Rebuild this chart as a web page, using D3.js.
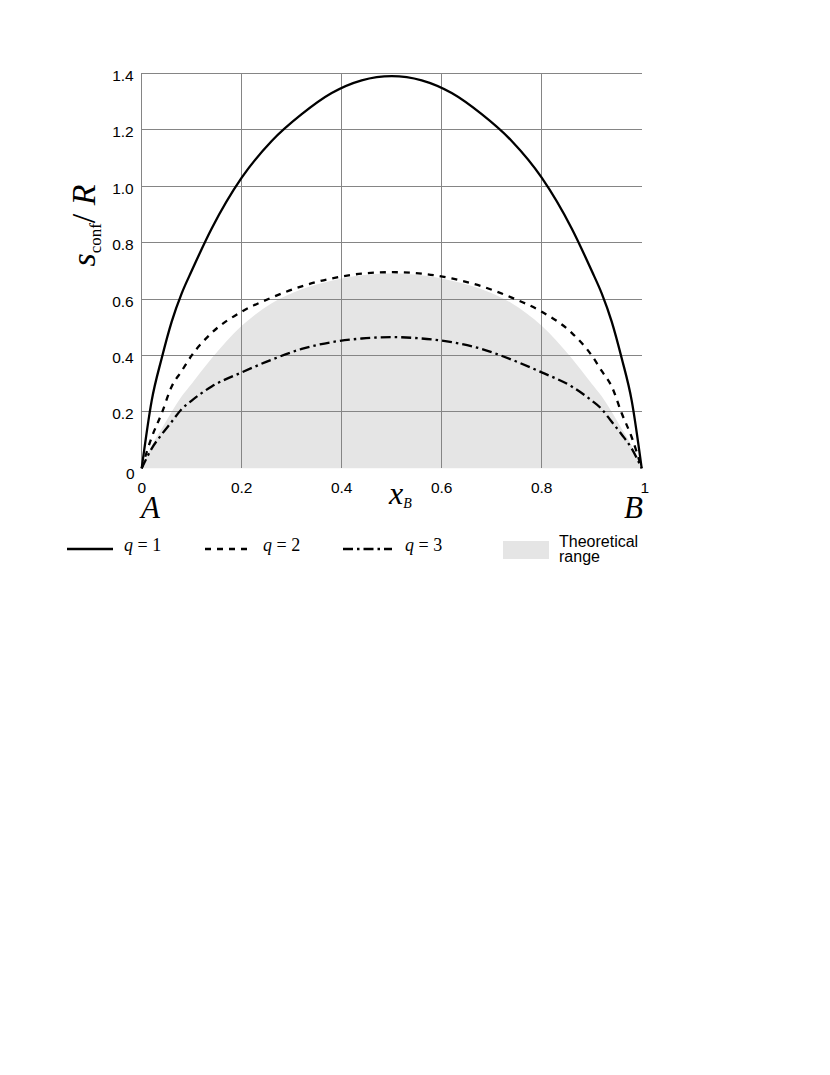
<!DOCTYPE html>
<html>
<head>
<meta charset="utf-8">
<script src="https://cdn.jsdelivr.net/npm/d3@7"></script>
<style>
  html, body { margin: 0; padding: 0; background: #ffffff; }
  svg { display: block; }
</style>
</head>
<body>
<div id="chart"></div>
<script>
// mole fraction of B along the A-B line
const xB = [0, 0.02, 0.04, 0.06, 0.08, 0.10, 0.14, 0.20, 0.26, 0.32, 0.38, 0.44, 0.50,
  0.56, 0.62, 0.68, 0.74, 0.80, 0.86, 0.90, 0.92, 0.94, 0.96, 0.98, 1];

const q1Values = [0, 0.24, 0.39, 0.52, 0.62, 0.70, 0.85, 1.03, 1.16, 1.255, 1.33, 1.375, 1.39,
  1.375, 1.33, 1.255, 1.16, 1.03, 0.85, 0.70, 0.62, 0.52, 0.39, 0.24, 0];
const q2Values = [0, 0.11, 0.195, 0.29, 0.345, 0.40, 0.48, 0.555, 0.605, 0.645, 0.673, 0.69, 0.695,
  0.69, 0.673, 0.645, 0.605, 0.555, 0.48, 0.40, 0.345, 0.29, 0.195, 0.11, 0];
const q3Values = [0, 0.07, 0.12, 0.165, 0.21, 0.24, 0.29, 0.34, 0.385, 0.423, 0.447, 0.46, 0.465,
  0.46, 0.447, 0.423, 0.385, 0.34, 0.29, 0.24, 0.21, 0.165, 0.12, 0.07, 0];
const rangeUpper = [0, 0.08, 0.14, 0.20, 0.255, 0.30, 0.39, 0.505, 0.585, 0.635, 0.665, 0.684, 0.69,
  0.684, 0.665, 0.635, 0.585, 0.505, 0.39, 0.30, 0.255, 0.20, 0.14, 0.08, 0];

const xTicks = [0, 0.2, 0.4, 0.6, 0.8, 1];
const xTickLabels = ["0", "0.2", "0.4", "0.6", "0.8", "1"];
const yTicks = [0, 0.2, 0.4, 0.6, 0.8, 1.0, 1.2, 1.4];
const yTickLabels = ["0", "0.2", "0.4", "0.6", "0.8", "1.0", "1.2", "1.4"];

const seriesNames = ["1", "2", "3"];

const WIDTH = 830;
const HEIGHT = 1075;
const PLOT = { left: 141.7, right: 641.7, top: 73.3, bottom: 468.3 };
const GRID_COLOR = "#858585";
const FILL_COLOR = "#e5e5e5";
const SANS = "'Liberation Sans', Arial, sans-serif";
const SERIF = "'Liberation Serif', 'Times New Roman', serif";
const DASHES = [null, "6,6", "10,4,2.5,4"];

const x = d3.scaleLinear().domain([0, 1]).range([PLOT.left, PLOT.right]);
const y = d3.scaleLinear().domain([0, 1.4]).range([PLOT.bottom, PLOT.top]);

const svg = d3.select("#chart")
  .append("svg")
  .attr("width", WIDTH)
  .attr("height", HEIGHT)
  .attr("viewBox", `0 0 ${WIDTH} ${HEIGHT}`);

svg.append("rect").attr("width", WIDTH).attr("height", HEIGHT).attr("fill", "#ffffff");

// theoretical range, under the grid
const area = d3.area()
  .x((d) => x(d[0]))
  .y0(y(0))
  .y1((d) => y(d[1]))
  .curve(d3.curveMonotoneX);

svg.append("path")
  .datum(xB.map((v, i) => [v, rangeUpper[i]]))
  .attr("d", area)
  .attr("fill", FILL_COLOR);

// grid: no line at y = 0 and none at x = 1
const grid = svg.append("g").attr("stroke", GRID_COLOR).attr("stroke-width", 1).attr("shape-rendering", "crispEdges");

grid.selectAll("line.h")
  .data(yTicks.filter((t) => t > 0))
  .join("line")
  .attr("class", "h")
  .attr("x1", x(0))
  .attr("x2", x(1))
  .attr("y1", (t) => y(t))
  .attr("y2", (t) => y(t));

grid.selectAll("line.v")
  .data(xTicks.filter((t) => t < 1))
  .join("line")
  .attr("class", "v")
  .attr("x1", (t) => x(t))
  .attr("x2", (t) => x(t))
  .attr("y1", y(1.4))
  .attr("y2", y(0));

// tick labels
svg.append("g")
  .selectAll("text")
  .data(yTicks)
  .join("text")
  .attr("x", (t) => (t === 0 ? x(0) - 7 : x(0) - 8))
  .attr("y", (t) => y(t) + (t === 0 ? 10.7 : 7.5))
  .attr("text-anchor", "end")
  .attr("font-family", SANS)
  .attr("font-size", 15.5)
  .attr("fill", "#000")
  .text((t, i) => yTickLabels[i]);

svg.append("g")
  .selectAll("text")
  .data(xTicks)
  .join("text")
  .attr("x", (t) => x(t) + (t === 1 ? 3 : 0))
  .attr("y", 493)
  .attr("text-anchor", "middle")
  .attr("font-family", SANS)
  .attr("font-size", 15.5)
  .attr("fill", "#000")
  .text((t, i) => xTickLabels[i]);

// curves
const line = d3.line()
  .x((d) => x(d[0]))
  .y((d) => y(d[1]))
  .curve(d3.curveMonotoneX);

const seriesValues = [q1Values, q2Values, q3Values];

svg.append("g")
  .selectAll("path")
  .data(seriesValues)
  .join("path")
  .attr("d", (vals) => line(xB.map((v, i) => [v, vals[i]])))
  .attr("fill", "none")
  .attr("stroke", "#000")
  .attr("stroke-width", 2.3)
  .attr("stroke-linejoin", "round")
  .attr("stroke-dasharray", (d, i) => DASHES[i]);

// axis titles
const yTitle = svg.append("text")
  .attr("transform", "translate(95,225.5) rotate(-90)")
  .attr("text-anchor", "middle")
  .attr("font-family", SERIF)
  .attr("font-size", 34)
  .attr("fill", "#000");
yTitle.append("tspan").attr("font-style", "italic").text("s");
yTitle.append("tspan").attr("font-size", 17).attr("dy", 6).text("conf");
yTitle.append("tspan").attr("dy", -6).text("/ ");
yTitle.append("tspan").attr("font-style", "italic").text("R");

const xTitle = svg.append("text")
  .attr("x", 389)
  .attr("y", 504)
  .attr("font-family", SERIF)
  .attr("font-size", 32)
  .attr("font-style", "italic")
  .attr("fill", "#000");
xTitle.append("tspan").text("x");
xTitle.append("tspan").attr("font-size", 14).attr("dy", 4).text("B");

svg.append("text")
  .attr("x", 141)
  .attr("y", 518)
  .attr("font-family", SERIF)
  .attr("font-size", 31)
  .attr("font-style", "italic")
  .text("A");

svg.append("text")
  .attr("x", 624)
  .attr("y", 518)
  .attr("font-family", SERIF)
  .attr("font-size", 31)
  .attr("font-style", "italic")
  .text("B");

// legend
const legendLines = [
  { x1: 67, x2: 113, tx: 124 },
  { x1: 205, x2: 252, tx: 263 },
  { x1: 343, x2: 392, tx: 405 },
];
const legendY = 549;

const legend = svg.append("g");
legend.selectAll("line")
  .data(legendLines)
  .join("line")
  .attr("x1", (d) => d.x1)
  .attr("x2", (d) => d.x2)
  .attr("y1", legendY)
  .attr("y2", legendY)
  .attr("stroke", "#000")
  .attr("stroke-width", 2.3)
  .attr("stroke-dasharray", (d, i) => DASHES[i]);

legend.selectAll("text")
  .data(legendLines)
  .join("text")
  .attr("x", (d) => d.tx)
  .attr("y", 551)
  .attr("font-family", SERIF)
  .attr("font-size", 18)
  .attr("fill", "#000")
  .each(function (d, i) {
    const t = d3.select(this);
    t.append("tspan").attr("font-style", "italic").text("q");
    t.append("tspan").text(" = " + seriesNames[i]);
  });

legend.append("rect")
  .attr("x", 503)
  .attr("y", 541)
  .attr("width", 46)
  .attr("height", 18)
  .attr("fill", FILL_COLOR);

const rangeLabel = legend.append("text")
  .attr("font-family", SANS)
  .attr("font-size", 16)
  .attr("fill", "#000");
rangeLabel.append("tspan").attr("x", 559).attr("y", 547).text("Theoretical");
rangeLabel.append("tspan").attr("x", 559).attr("y", 562).text("range");
</script>
</body>
</html>
